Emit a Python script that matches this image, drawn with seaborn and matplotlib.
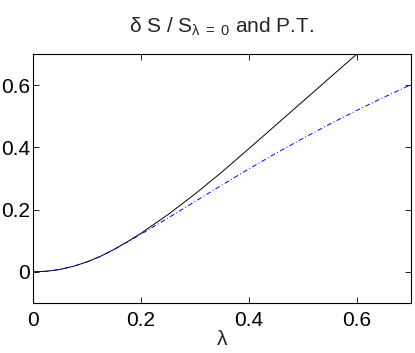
import pandas as pd
import matplotlib
matplotlib.use('Agg')
import matplotlib.pyplot as plt
import seaborn as sns

lam = [0.0, 0.025, 0.05, 0.075, 0.1, 0.125, 0.15, 0.175, 0.2, 0.25, 0.3, 0.35,
       0.4, 0.45, 0.5, 0.55, 0.6, 0.65, 0.7]
ds_exact = [0.0, 0.002, 0.008, 0.018, 0.032, 0.05, 0.072, 0.097, 0.124, 0.184,
            0.25, 0.321, 0.396, 0.472, 0.548, 0.624, 0.70, 0.776, 0.852]
ds_pt = [0.0, 0.002, 0.008, 0.018, 0.032, 0.05, 0.072, 0.096, 0.121, 0.173,
         0.226, 0.279, 0.331, 0.381, 0.429, 0.475, 0.519, 0.561, 0.601]

sns.set_style('ticks')
plt.rcParams.update({
    'font.family': ['Liberation Sans', 'DejaVu Sans'],
    'mathtext.fontset': 'custom',
    'mathtext.rm': 'Liberation Sans',
    'mathtext.it': 'Liberation Sans',
    'mathtext.default': 'regular',
    'xtick.direction': 'in',
    'ytick.direction': 'in',
    'xtick.top': True,
    'ytick.right': True,
    'axes.linewidth': 0.8,
})

df = pd.DataFrame({'lam': lam, 'exact': ds_exact, 'pt': ds_pt})

fig = plt.figure(figsize=(4.15, 3.53), dpi=100)
ax = fig.add_axes([0.0795, 0.1416, 0.9105, 0.7054])

sns.lineplot(data=df, x='lam', y='exact', ax=ax, color='black', lw=0.7)
sns.lineplot(data=df, x='lam', y='pt', ax=ax, color='#0000ff', lw=0.7,
             linestyle=(0, (5, 2.5, 1, 2.5)))

ax.set_xlim(0, 0.7)
ax.set_ylim(-0.1, 0.7)
ax.set_xticks([0, 0.2, 0.4, 0.6])
ax.set_xticklabels(['0', '0.2', '0.4', '0.6'])
ax.set_yticks([0, 0.2, 0.4, 0.6])
ax.set_yticklabels(['0', '0.2', '0.4', '0.6'])
ax.tick_params(labelsize=15, length=4, width=0.6, colors='black')
ax.tick_params(axis='y', pad=2)
ax.tick_params(axis='x', pad=6)
for s in ax.spines.values():
    s.set_color('black')

ax.set_xlabel(r'$\lambda$', fontsize=15, labelpad=0)
ax.set_ylabel('')
ax.set_title(r'$\delta$ S / S$_{\lambda\ =\ 0}$ and P.T.', fontsize=15, pad=15)

plt.savefig('out.png', dpi=100)
plt.close()
